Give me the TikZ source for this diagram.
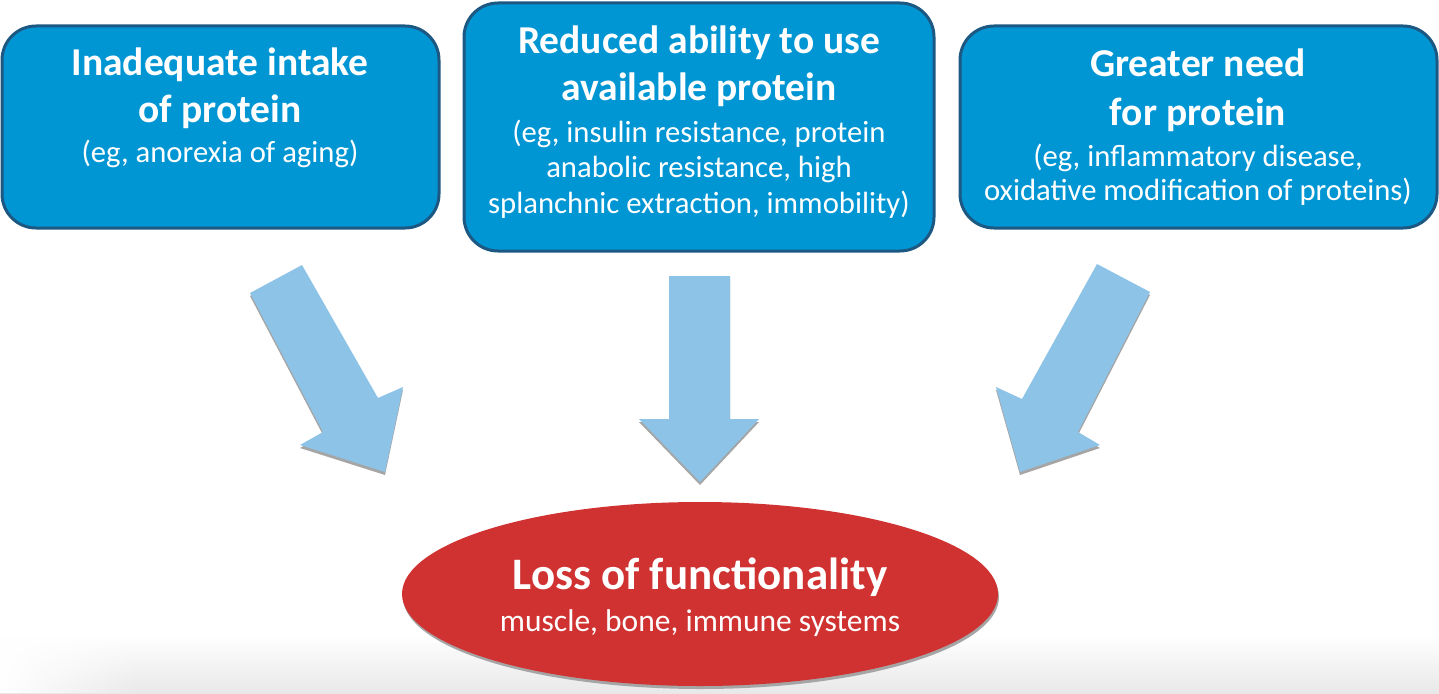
\documentclass[tikz,border=0pt]{standalone}
\usepackage{fontspec}
\setmainfont{Carlito}
\usetikzlibrary{fadings,shapes.geometric}
\definecolor{boxfill}{RGB}{0,150,212}
\definecolor{boxline}{RGB}{28,88,130}
\definecolor{arrfill}{RGB}{141,195,230}
\definecolor{ellfill}{RGB}{208,50,50}
\definecolor{shadowgray}{RGB}{165,165,165}
\tikzset{
  box/.style={draw=boxline, line width=3pt, fill=boxfill, rounded corners=34pt, inner sep=0pt},
  ttl/.style={text=white, anchor=base, inner sep=0pt, font=\fontsize{39.5}{46}\selectfont\bfseries},
  sub/.style={text=white, anchor=base, inner sep=0pt, font=\fontsize{30.7}{36}\selectfont},
  bigarrow/.style={fill=arrfill},
  arrshadow/.style={fill=shadowgray},
}
\begin{document}
\begin{tikzpicture}[x=1pt,y=-1pt]
\useasboundingbox (0,0) rectangle (1439,693);
% bottom soft band
\shade[top color=white, bottom color=black!9] (0,635) rectangle (1439,693);
\fill[white, path fading=east] (0,630) rectangle (140,693);

% boxes
\node[box, minimum width=437pt, minimum height=202pt] (b1) at (220.5,127) {};
\node[box, minimum width=470pt, minimum height=248pt] (b2) at (699,127) {};
\node[box, minimum width=477pt, minimum height=202pt] (b3) at (1198.5,127) {};

% box texts
\node[ttl] (t1a) at (220,75) {Inadequate intake};
\node[ttl] (t1b) at (220,122) {of protein};
\node[sub] (s1a) at (220,162) {(eg, anorexia of aging)};

\node[ttl] (t2a) at (699,53) {Reduced ability to use};
\node[ttl] (t2b) at (699,100) {available protein};
\node[sub] (s2a) at (699,142) {(eg, insulin resistance, protein};
\node[sub] (s2b) at (699,177) {anabolic resistance, high};
\node[sub] (s2c) at (699,213) {splanchnic extraction, immobility)};

\node[ttl] (t3a) at (1198,77) {Greater need};
\node[ttl] (t3b) at (1198,125) {for protein};
\node[sub] (s3a) at (1198,166) {(eg, inflammatory disease,};
\node[sub] (s3b) at (1198,200) {oxidative modification of proteins)};

% block arrows (shadow then fill)
\fill[arrshadow] (250,296) -- (302,268) -- (378,401) -- (403,390) -- (385,475) -- (300,448) -- (323,435) -- cycle;
\fill[bigarrow] (250,293) -- (302,265) -- (378,398) -- (403,387) -- (385,472) -- (300,445) -- (323,432) -- cycle;

\fill[arrshadow] (669,279) -- (730,279) -- (730,422) -- (759,422) -- (700,485) -- (639,422) -- (669,422) -- cycle;
\fill[bigarrow] (669,276) -- (730,276) -- (730,419) -- (759,419) -- (700,482) -- (639,419) -- (669,419) -- cycle;

\fill[arrshadow] (1097,267) -- (1150,295) -- (1078,435) -- (1100,448) -- (1020,475) -- (996,390) -- (1022,402) -- cycle;
\fill[bigarrow] (1097,264) -- (1150,292) -- (1078,432) -- (1100,445) -- (1020,472) -- (996,387) -- (1022,399) -- cycle;

% ellipse
\fill[shadowgray] (701,597) ellipse [x radius=298pt, y radius=92pt];
\node[ellipse, fill=ellfill, minimum width=596pt, minimum height=184pt, inner sep=0pt] (e) at (700,594) {};
\node[text=white, anchor=base, inner sep=0pt, font=\fontsize{45}{52}\selectfont\bfseries] (et) at (700,589) {Loss of functionality};
\node[text=white, anchor=base, inner sep=0pt, font=\fontsize{31.5}{36}\selectfont] (es) at (700,631) {muscle, bone, immune systems};
\end{tikzpicture}
\end{document}
